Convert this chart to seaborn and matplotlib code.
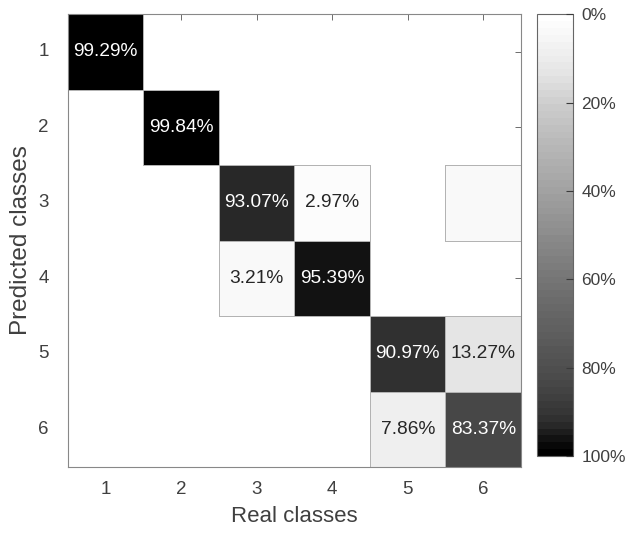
import numpy as np
import pandas as pd
import matplotlib
matplotlib.use("Agg")
import matplotlib.pyplot as plt
from matplotlib.colors import ListedColormap, LinearSegmentedColormap
import seaborn as sns

# Data: column-normalised confusion matrix (%), rows = predicted, cols = real
classes = ["1", "2", "3", "4", "5", "6"]
row1 = [99.29, 0, 0, 0, 0, 0]
row2 = [0, 99.84, 0, 0, 0, 0]
row3 = [0, 0, 93.07, 2.97, 0, 3.36]
row4 = [0, 0, 3.21, 95.39, 0, 0]
row5 = [0, 0, 0, 0, 90.97, 13.27]
row6 = [0, 0, 0, 0, 7.86, 83.37]
shown = [(0, 0), (1, 1), (2, 2), (2, 3), (3, 2), (3, 3), (4, 4), (4, 5), (5, 4), (5, 5)]

cm = pd.DataFrame([row1, row2, row3, row4, row5, row6], index=classes, columns=classes)
labels = np.full(cm.shape, "", dtype=object)
for r, c in shown:
    labels[r, c] = f"{cm.iloc[r, c]:.2f}%"
mask = cm == 0

sns.set_style("white")
plt.rcParams['font.family'] = ['Liberation Sans', 'DejaVu Sans']
txt_col = "#404040"

# gray map like the original (lighter in the middle, steep to black at the end), 64 steps
nodes = [(0.0, 1.0), (0.08, 0.937), (0.13, 0.894), (0.2, 0.80), (0.65, 0.42),
         (0.834, 0.29), (0.91, 0.208), (0.93, 0.176), (0.954, 0.11), (0.985, 0.03), (1.0, 0.0)]
smooth = LinearSegmentedColormap.from_list("g", [(p, (g, g, g)) for p, g in nodes])
cmap = ListedColormap(smooth(np.linspace(0, 1, 64)))

fig = plt.figure(figsize=(6.26, 5.36), dpi=100)
ax = fig.add_axes([0.1086, 0.1287, 0.7236, 0.845])
cax = fig.add_axes([0.858, 0.149, 0.0575, 0.8246])

sns.heatmap(cm, mask=mask, cmap=cmap, vmin=0, vmax=100, annot=labels, fmt="",
            annot_kws={"fontsize": 13.8}, linewidths=0.5, linecolor="#b0b0b0",
            ax=ax, cbar_ax=cax)

# edges only around the filled cells
mesh = ax.collections[0]
edge = np.array([[0.7, 0.7, 0.7, 1.0]] * mask.size)
edge[mask.values.ravel(), 3] = 0.0
mesh.set_edgecolors(edge)

ax.set_xlabel("Real classes", fontsize=16, color=txt_col, labelpad=6)
ax.set_ylabel("Predicted classes", fontsize=17.5, color=txt_col, labelpad=4)
ax.tick_params(axis="both", direction="in", length=4, width=0.6, color="#555555",
               labelsize=13.5, labelcolor=txt_col, top=True, right=True)
ax.tick_params(axis="x", pad=10)
ax.tick_params(axis="y", rotation=0, pad=14)
for s in ax.spines.values():
    s.set_visible(True)
    s.set_color("#888888")
    s.set_linewidth(0.8)

cbar = mesh.colorbar
cax.invert_yaxis()
cbar.set_ticks([0, 20, 40, 60, 80, 100])
cbar.set_ticklabels(["0%", "20%", "40%", "60%", "80%", "100%"])
cbar.solids.set_zorder(0)
cax.set_axisbelow(False)
cax.yaxis.set_ticks_position("right")
cax.tick_params(axis="y", which="major", direction="in", right=True, left=False,
                length=5, width=0.8, color="#3a3a3a",
                labelsize=12.5, labelcolor=txt_col, pad=6)
cbar.outline.set_edgecolor("#666666")
cbar.outline.set_linewidth(0.8)

fig.savefig("out.png", dpi=100)
